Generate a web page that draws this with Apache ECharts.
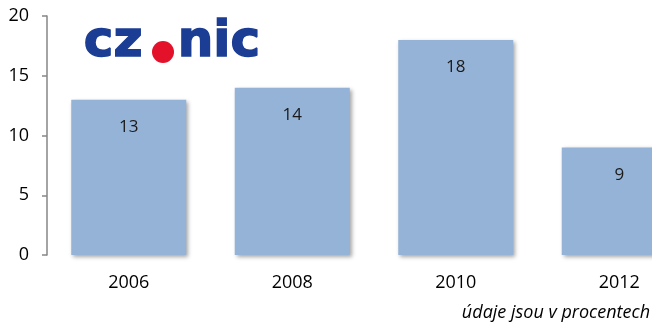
<!DOCTYPE html>
<html>
<head>
<meta charset="utf-8">
<script src="https://cdn.jsdelivr.net/npm/echarts@6/dist/echarts.min.js"></script>
<style>html,body{margin:0;padding:0;background:#fff}#c{width:652px;height:327px}</style>
</head>
<body>
<div id="c"></div>
<script>
const categories = ['2006', '2008', '2010', '2012'];
const values = [13, 14, 18, 9];
const yTicks = [0, 5, 10, 15, 20];
const footnote = 'údaje jsou v procentech';

const chart = echarts.init(document.getElementById('c'), null, {renderer: 'canvas'});
const font = '"Open Sans", sans-serif';
chart.setOption({
  animation: false,
  backgroundColor: '#ffffff',
  grid: {left: 47, top: 16, height: 239, width: 654, containLabel: false, outerBoundsMode: 'none'},
  xAxis: {
    type: 'category',
    data: categories,
    axisLine: {show: false},
    axisTick: {show: false},
    axisLabel: {color: '#000', fontFamily: font, fontSize: 18, margin: 19}
  },
  yAxis: {
    type: 'value',
    min: yTicks[0], max: yTicks[yTicks.length - 1], interval: 5,
    splitLine: {show: false},
    axisLine: {show: true, lineStyle: {color: '#868686', width: 1.5}},
    axisTick: {show: true, inside: false, length: 5, lineStyle: {color: '#868686', width: 1.5}},
    axisLabel: {color: '#000', fontFamily: font, fontSize: 18, margin: 18}
  },
  series: [{
    type: 'bar',
    data: values,
    barWidth: 115,
    itemStyle: {
      color: '#95B3D7',
      shadowColor: 'rgba(0,0,0,0.35)', shadowBlur: 4, shadowOffsetX: 2, shadowOffsetY: 2
    },
    label: {
      show: true, position: 'insideTop', distance: 19,
      color: '#1a1a1a', fontFamily: font, fontSize: 17
    }
  }],
  graphic: [
    {type: 'text', left: 83, top: 17,
     style: {text: 'cz', font: 'bold 50px "DejaVu Sans"', fill: '#1B3D94',
             stroke: '#1B3D94', lineWidth: 1.5,
             shadowColor: 'rgba(0,0,0,0.12)', shadowBlur: 14}},
    {type: 'circle', shape: {cx: 163, cy: 52, r: 11}, style: {fill: '#E3122A'}},
    {type: 'text', left: 177, top: 17,
     style: {text: 'nic', font: 'bold 50px "DejaVu Sans"', fill: '#1B3D94',
             stroke: '#1B3D94', lineWidth: 1.5,
             shadowColor: 'rgba(0,0,0,0.12)', shadowBlur: 14}},
    {type: 'text', right: 2, top: 304,
     style: {text: footnote, font: 'italic 18px "Open Sans"', fill: '#000'}}
  ]
});
</script>
</body>
</html>
